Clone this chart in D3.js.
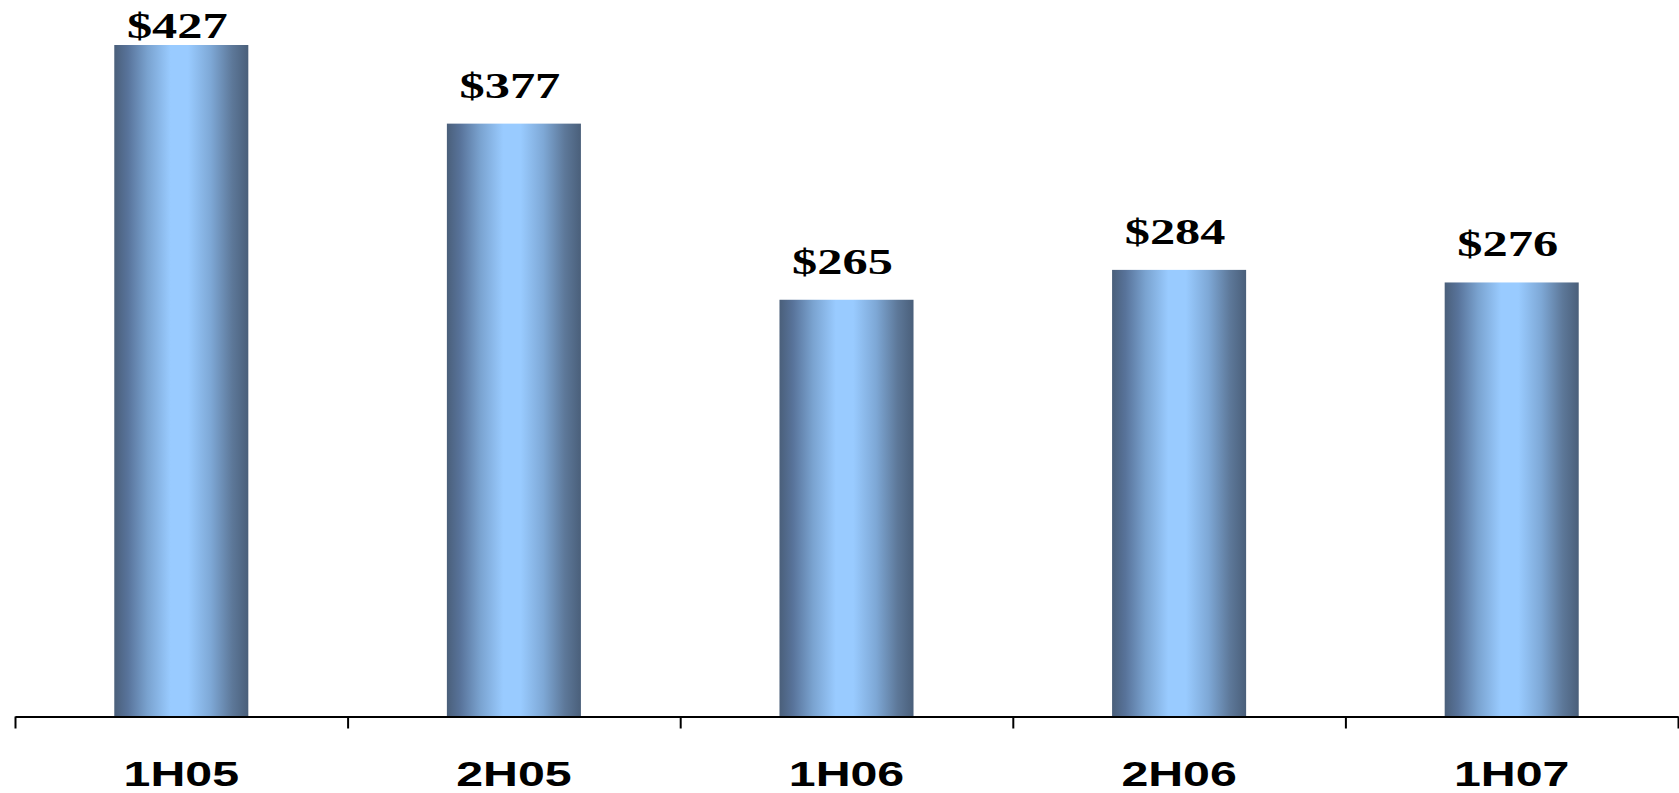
<!DOCTYPE html>
<html>
<head>
<meta charset="utf-8">
<script src="https://cdn.jsdelivr.net/npm/d3@7"></script>
<style>
  html, body { margin: 0; padding: 0; background: #fff; }
  svg { display: block; }
</style>
</head>
<body>
<svg id="chart" width="1679" height="793"></svg>
<script>
// Half-year periods and their values (dollars)
const periods = ["1H05", "2H05", "1H06", "2H06", "1H07"];
const values = [427, 377, 265, 284, 276];
const valueLabels = ["$427", "$377", "$265", "$284", "$276"];

const W = 1679, H = 793;
const left = 15, right = 1678, baseY = 716.5;

const svg = d3.select("#chart");

const defs = svg.append("defs");
const grad = defs.append("linearGradient")
  .attr("id", "barGrad")
  .attr("x1", "0%").attr("x2", "100%")
  .attr("y1", "0%").attr("y2", "0%");
[
  [0.00, "#4a5f7a"],
  [0.10, "#58739a"],
  [0.25, "#7aa3d0"],
  [0.42, "#99cbff"],
  [0.55, "#99cbff"],
  [0.72, "#7ea8d6"],
  [0.88, "#5d7899"],
  [1.00, "#4a5f7a"]
].forEach(([o, c]) => grad.append("stop").attr("offset", o).attr("stop-color", c));

const x = d3.scaleBand().domain(periods).range([left, right]).padding(0);
const y = d3.scaleLinear().domain([0, 450]).range([baseY, baseY - 450 * 1.5726]);

const barW = x.bandwidth() * 0.403;

// Bars
svg.append("g").selectAll("rect")
  .data(periods)
  .join("rect")
  .attr("x", (d) => x(d) + x.bandwidth() / 2 - barW / 2)
  .attr("y", (d, i) => y(values[i]))
  .attr("width", barW)
  .attr("height", (d, i) => baseY - y(values[i]))
  .attr("fill", "url(#barGrad)");

// Value labels above bars
svg.append("g").selectAll("text")
  .data(periods)
  .join("text")
  .attr("transform", (d, i) => {
    const cx = x(d) + x.bandwidth() / 2 - 4;
    const by = Math.max(37.5, y(values[i]) - 26);
    return `translate(${cx},${by}) scale(1.4,1)`;
  })
  .attr("text-anchor", "middle")
  .attr("font-family", "'Liberation Serif', 'Times New Roman', serif")
  .attr("font-weight", "bold")
  .attr("font-size", 36)
  .attr("fill", "#000")
  .text((d, i) => valueLabels[i]);

// Category axis with ticks at band boundaries
const edge = d3.scaleLinear().domain([0, periods.length]).range([left, right]);
const axis = svg.append("g")
  .attr("transform", `translate(0,${baseY})`)
  .call(d3.axisBottom(edge)
    .tickValues(d3.range(periods.length + 1))
    .tickFormat("")
    .tickSize(12)
    .tickSizeOuter(0));
axis.select(".domain").attr("stroke", "#000").attr("stroke-width", 2);
axis.selectAll(".tick line").attr("stroke", "#000").attr("stroke-width", 2);

// Category labels
svg.append("g").selectAll("text")
  .data(periods)
  .join("text")
  .attr("transform", (d) => `translate(${x(d) + x.bandwidth() / 2},786) scale(1.38,1)`)
  .attr("text-anchor", "middle")
  .attr("font-family", "'Liberation Sans', Arial, sans-serif")
  .attr("font-weight", "bold")
  .attr("font-size", 35)
  .attr("fill", "#000")
  .text((d) => d);
</script>
</body>
</html>
